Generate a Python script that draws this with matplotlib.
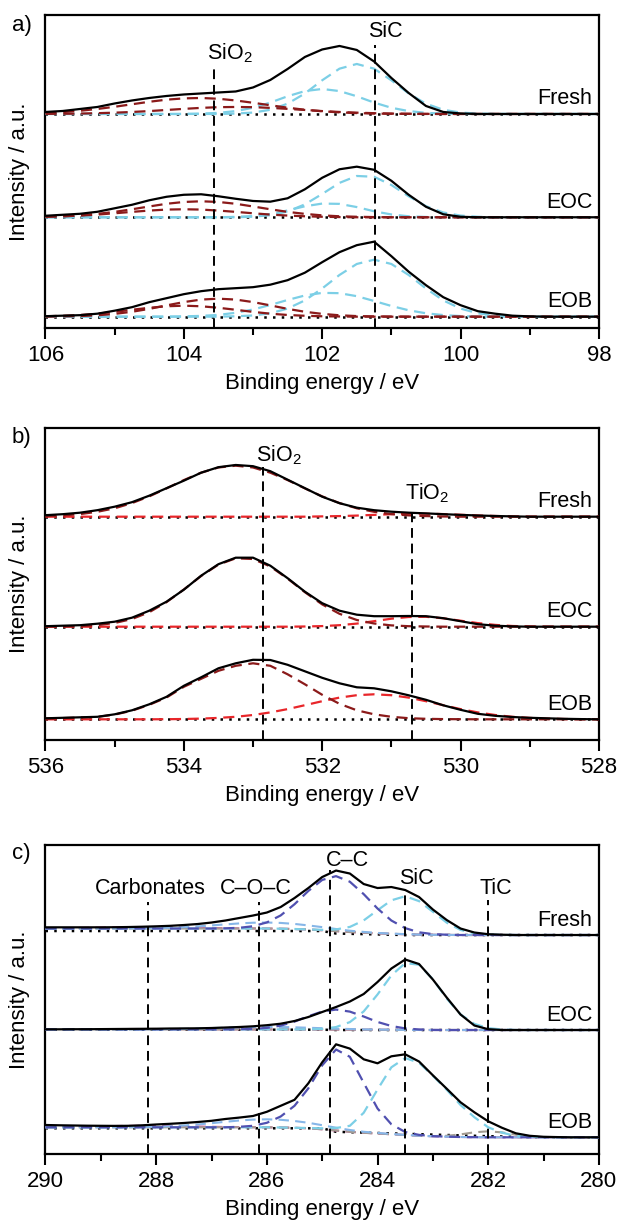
import numpy as np
import matplotlib.pyplot as plt
from matplotlib.ticker import MultipleLocator
from matplotlib.transforms import blended_transform_factory

plt.rcParams['font.family'] = ['Liberation Sans', 'DejaVu Sans']
plt.rcParams['mathtext.fontset'] = 'custom'
plt.rcParams['mathtext.rm'] = 'Liberation Sans'
plt.rcParams['mathtext.it'] = 'Liberation Sans:italic'
plt.rcParams['axes.formatter.useoffset'] = False

samples = ['Fresh', 'EOC', 'EOB']

# ---------------- a) Si 2p ----------------
si_be = np.arange(106.0, 97.9, -0.25)
si_fresh_env = [2, 3, 5, 7, 10.5, 13.5, 16, 18, 19.5, 20.5, 21.5, 22.5, 26.5, 34, 45,
                57, 64.5, 68, 64, 52.5, 36, 21, 8, 2, 0.5] + [0] * 8
si_fresh_sio2_a = [1.1, 1.9, 3.2, 5.0, 7.2, 9.7, 12.2, 14.3, 15.6, 16, 15.2, 13.5, 11.2,
                   8.7, 6.3, 4.2, 2.7, 1.6, 0.9, 0.4, 0.2, 0.1] + [0] * 11
si_fresh_sio2_b = [0.1, 0.2, 0.4, 0.8, 1.3, 2.0, 2.9, 4.0, 5.1, 6.1, 6.8, 7, 6.8, 6.1,
                   5.1, 4.0, 2.9, 2.0, 1.3, 0.8, 0.4, 0.2, 0.1] + [0] * 10
si_fresh_sic_a = [0] * 11 + [0.4, 1.4, 4.2, 10.3, 20.5, 33.7, 45.3, 50, 45.3, 33.7, 20.5,
                             10.3, 4.2, 1.4, 0.4] + [0] * 7
si_fresh_sic_b = [0] * 9 + [0.4, 1.1, 2.9, 6.2, 11.4, 17.7, 22.9, 25, 22.9, 17.7, 11.4,
                            6.2, 2.9, 1.1, 0.4] + [0] * 9

si_eoc_env = [1.5, 2.5, 3.5, 5.5, 9, 12.5, 17, 20.5, 22.5, 23, 21, 18.5, 16.3, 15.6, 19,
              28, 39.5, 48, 50.6, 47.5, 36.5, 22.5, 10.5, 3, 0.5] + [0] * 8
si_eoc_sio2_a = [0.5, 1.0, 1.9, 3.4, 5.4, 8.0, 10.8, 13.5, 15.3, 16, 15.3, 13.5, 10.8,
                 8.0, 5.4, 3.4, 1.9, 1.0, 0.5, 0.2] + [0] * 13
si_eoc_sio2_b = [0.5, 1.0, 1.7, 2.7, 4.0, 5.4, 6.7, 7.7, 8, 7.7, 6.7, 5.4, 4.0, 2.7,
                 1.7, 1.0, 0.5, 0.2] + [0] * 15
si_eoc_sic_a = [0] * 12 + [0.6, 2.1, 5.8, 12.9, 23.3, 34.4, 41.3, 40.5, 32.3, 21.0, 11.1,
                           4.8, 1.7, 0.5] + [0] * 7
si_eoc_sic_b = [0] * 11 + [0.4, 1.2, 3.3, 6.8, 11.0, 13.7, 13.4, 10.2, 6.0, 2.8, 1.0,
                           0.3] + [0] * 10

si_eob_env = [0.5, 1, 1.5, 3, 6, 9.5, 14.5, 18.5, 22.5, 25.5, 27.5, 28.5, 29.5, 32, 36.5,
              44, 54.5, 64.5, 71.5, 75, 60.5, 45, 31.5, 19.5, 11.5, 5.5, 3, 1, 0.3] + [0] * 4
si_eob_sio2_a = [0.1, 0.3, 0.6, 1.4, 2.8, 4.9, 7.8, 11.3, 14.6, 17.1, 18, 17.1, 14.6,
                 11.3, 7.8, 4.9, 2.8, 1.4, 0.6, 0.3, 0.1] + [0] * 12
si_eob_sio2_b = [0.4, 0.9, 1.7, 3.0, 4.8, 6.9, 8.9, 10.4, 11, 10.4, 8.9, 6.9, 4.8, 3.0,
                 1.7, 0.9, 0.4, 0.2] + [0] * 15
si_eob_sic_a = [0] * 11 + [0.4, 1.2, 3.4, 8.1, 16.3, 28.2, 41.7, 52.7, 57, 52.7, 41.7,
                           28.2, 16.3, 8.1, 3.4, 1.2, 0.4] + [0] * 5
si_eob_sic_b = [0] * 8 + [0.3, 0.8, 1.8, 3.9, 7.2, 11.7, 16.7, 21.2, 23.8, 23.5, 20.5,
                          15.7, 10.7, 6.4, 3.4, 1.6, 0.6] + [0] * 8

si_refs = [103.56, 101.24]
si_ref_labels = ['SiO$_2$', 'SiC']

# ---------------- b) O 1s ----------------
o_be = np.arange(536.0, 527.9, -0.25)
o_fresh_env = [1.5, 2.5, 4, 6.5, 10, 14.5, 21, 28.5, 36, 44, 49.5, 51.7, 50.5, 45.5, 37,
               28.5, 20, 13.5, 9, 6.5, 5, 4, 3.3, 2.5, 1.8, 1.2, 0.7, 0.3] + [0] * 5
o_fresh_sio2 = [0.6, 1.3, 2.6, 4.9, 8.4, 13.6, 20.3, 28.3, 36.6, 44.0, 49.2, 51, 49.2,
                44.0, 36.6, 28.3, 20.3, 13.6, 8.4, 4.9, 2.6, 1.3, 0.6, 0.2] + [0] * 9
o_fresh_tio2 = [0] * 16 + [0.3, 0.6, 1.1, 1.8, 2.5, 2.9, 3.0, 2.6, 1.9, 1.2, 0.7, 0.3] + [0] * 5

o_eoc_env = [0.5, 1, 1.5, 3, 5, 9, 16, 25, 37, 51, 62.5, 69, 69, 61, 48.5, 35, 23.5, 16,
             12, 10.5, 10.5, 10.7, 10.5, 8.5, 5.5, 2.5, 1, 0.3] + [0] * 5
o_eoc_sio2 = [0.1, 0.2, 0.6, 1.6, 3.7, 7.7, 14.5, 24.6, 37.2, 50.7, 62.1, 68.4, 67.7,
              60.2, 48.1, 34.5, 22.3, 12.9, 6.7, 3.2, 1.3, 0.5, 0.2] + [0] * 10
o_eoc_tio2 = [0] * 15 + [0.2, 0.6, 1.5, 3.1, 5.5, 8.0, 9.7, 9.9, 8.4, 6.0, 3.6, 1.8, 0.7,
                         0.3] + [0] * 4

o_eob_env = [1, 1.5, 2, 2.5, 5, 9, 15, 22.5, 33.5, 42, 51, 56, 59.5, 59.3, 54.5, 48, 41.5,
             36, 32, 31, 28, 24, 19.5, 14, 9.5, 5.5, 3.5, 2.3, 1.5, 1, 0.5, 0.2, 0]
o_eob_sio2 = [0.8, 1.2, 1.8, 2.4, 4.7, 8.6, 14.5, 21.8, 32.5, 40.5, 48.5, 53.5, 56, 53.5,
              45, 35, 24.5, 15.5, 9, 5, 2.5, 1.1, 0.5, 0.2, 0.1] + [0] * 8
o_eob_tio2 = [0] * 7 + [0.1, 0.3, 0.7, 1.4, 2.5, 4.3, 6.9, 10.2, 14.1, 18.1, 21.7, 24.1, 25,
                        24.1, 21.7, 18.1, 14.1, 10.2, 6.9, 4.3, 2.5, 1.4, 0.7, 0.3, 0.1, 0]

o_refs = [532.85, 530.70]
o_ref_labels = ['SiO$_2$', 'TiO$_2$']

# ---------------- c) C 1s ----------------
c_be = np.arange(290.0, 279.9, -0.25)
c_fresh_env = [7.7, 7.7, 7.7, 7.7, 7.7, 7.8, 8, 8.3, 8.7, 9.2, 10, 11, 12.5, 14.5, 17,
               19.5, 22.5, 28, 37, 47, 58, 64.5, 61.5, 51, 47, 48, 45, 38, 25.5, 15, 6.5,
               2.5, 0.8, 0.3] + [0] * 7
c_fresh_bg = [6.5] * 17 + [6.3, 6.0, 5.5, 4.8, 3.9, 3.0, 2.3, 1.7, 1.2, 0.8, 0.4, 0.2,
                           0.1] + [0] * 11
c_fresh_dot = [4] * 21 + [1.5, 1.2, 0.9, 0.6, 0.3] + [0] * 15
c_fresh_cc = [0] * 13 + [0.2, 0.7, 2.3, 6.1, 13.3, 24.8, 38.6, 50.3, 55, 50.3, 38.6, 24.8,
                         13.3, 6.1, 2.3, 0.7, 0.2] + [0] * 11
c_fresh_sic = [0] * 19 + [0.1, 0.4, 1.7, 5.1, 12.3, 23.1, 33.5, 38, 33.5, 23.1, 12.3, 5.1,
                          1.7, 0.4, 0.1] + [0] * 7
c_fresh_coc = [0] * 6 + [0.1, 0.2, 0.4, 0.8, 1.3, 2.1, 3.1, 4.1, 5.1, 5.8, 6, 5.8, 5.1,
                         4.1, 3.1, 2.1, 1.3, 0.8, 0.4, 0.2, 0.1] + [0] * 14
c_fresh_carb = [0.2, 0.3, 0.5, 0.8, 1.0, 1.3, 1.4, 1.5, 1.4, 1.3, 1.0, 0.8, 0.5, 0.3,
                0.2, 0.1] + [0] * 25
c_fresh_tic = [0] * 41

c_eoc_env = [0.7, 0.7, 0.8, 0.8, 0.9, 1, 1.1, 1.2, 1.3, 1.5, 1.6, 1.7, 2, 2.5, 3, 3.7,
             4.8, 6.3, 9, 13, 18, 23, 28.5, 36, 48, 61.5, 70.5, 66, 50.5, 32.5, 15.5, 4.5,
             0.8] + [0] * 8
c_eoc_bg = [0.6] * 19 + [0.55, 0.5, 0.45, 0.4, 0.3, 0.25, 0.2, 0.1, 0.05] + [0] * 13
c_eoc_dot = [0.3] * 21 + [0] * 20
c_eoc_cc = [0] * 14 + [0.1, 0.5, 1.5, 3.8, 7.8, 13.2, 18, 20, 18, 13.2, 7.8, 3.8, 1.5,
                       0.5, 0.1] + [0] * 12
c_eoc_sic = [0] * 19 + [0.1, 0.6, 2.5, 7.5, 18.3, 35.3, 54.4, 66.8, 65.3, 50.8, 31.5,
                        15.6, 6.1, 1.9, 0.5] + [0] * 7
c_eoc_coc = [0] * 7 + [0.1, 0.2, 0.3, 0.6, 0.9, 1.3, 1.7, 2.1, 2.4, 2.5, 2.4, 2.1, 1.7,
                       1.3, 0.9, 0.6, 0.3, 0.2, 0.1] + [0] * 15
c_eoc_carb = [0.1, 0.1, 0.2, 0.2, 0.3, 0.3, 0.4, 0.4, 0.4, 0.3, 0.3, 0.2, 0.2, 0.1,
              0.1] + [0] * 26
c_eoc_tic = [0] * 41

c_eob_env = [12.3, 12, 11.8, 11.6, 11.5, 11.4, 11.5, 12, 12.8, 13.5, 14.3, 15.3, 16.5,
             18.3, 19.7, 21.3, 25.5, 31.5, 37.5, 54, 75, 93, 88.7, 78, 74, 81, 83, 75.8,
             62, 48.6, 35, 25, 16, 9.5, 4, 1.5, 0.5, 0.2, 0, 0, 0]
c_eob_bg = [10] * 17 + [9.8, 9.5, 9, 8, 6.8, 5.5, 4.5, 3.8, 3, 2.3, 1.6, 1, 0.6, 0.3,
                        0.1] + [0] * 9
c_eob_dot = [9] * 21 + [5.5, 5.1, 4.7, 4.3, 3.9, 3.5, 3.1, 2.7, 2.3, 1.9, 1.5, 1.1, 0.8,
                        0.5, 0.2] + [0] * 5
c_eob_cc = [0] * 14 + [0.5, 1.5, 4.5, 11, 22, 40, 64, 81, 75, 50, 25, 10, 3, 0.8,
                       0.2] + [0] * 12
c_eob_sic = [0] * 19 + [0.3, 1, 2.5, 6, 20, 44, 67, 77, 73, 60.5, 47, 32, 20, 10, 4.6,
                        1.4, 0.5, 0.1] + [0] * 4
c_eob_coc = [0] * 6 + [0.1, 0.3, 0.6, 1.0, 1.8, 2.8, 4.1, 5.5, 6.8, 7.7, 8, 7.7, 6.8,
                       5.5, 4.1, 2.8, 1.8, 1.0, 0.6, 0.3, 0.1] + [0] * 14
c_eob_carb = [0.2, 0.3, 0.5, 0.8, 1.0, 1.3, 1.4, 1.5, 1.4, 1.3, 1.0, 0.8, 0.5, 0.3,
              0.2, 0.1] + [0] * 25
c_eob_tic = [0] * 28 + [0.2, 0.9, 2.6, 4.9, 6, 4.9, 2.6, 0.9, 0.2] + [0] * 4

c_refs = [288.15, 286.15, 284.85, 283.5, 282.0]
c_ref_labels = ['Carbonates', 'C–O–C', 'C–C', 'SiC', 'TiC']

# colours
darkred = '#8b1a1a'
cyan = '#7ccfe6'
red = '#e8262a'
blue = '#5050b0'
lightblue = '#86b6e8'
pink = '#d4509e'
grey = '#a39c92'

dash = (0, (5, 3))
dot = (0, (1, 2.5))


def setup_axes(ax, xlim, ylim, major, minor):
    ax.set_xlim(*xlim)
    ax.set_ylim(*ylim)
    ax.xaxis.set_major_locator(MultipleLocator(major))
    ax.xaxis.set_minor_locator(MultipleLocator(minor))
    ax.set_yticks([])
    ax.tick_params(which='major', direction='out', length=8, width=1.5, labelsize=16, pad=4)
    ax.tick_params(which='minor', direction='out', length=5, width=1.5)
    for s in ax.spines.values():
        s.set_linewidth(1.6)
    ax.set_xlabel('Binding energy / eV', fontsize=16, labelpad=5)
    ax.set_ylabel('Intensity / a.u.', fontsize=16)
    ax.yaxis.set_label_coords(-0.028, 0.5)


def sample_labels(ax, offsets):
    tr = blended_transform_factory(ax.transAxes, ax.transData)
    for name, off in zip(samples, offsets):
        ax.text(0.988, off + 15, name, transform=tr, ha='right', va='center', fontsize=15.5)


fig = plt.figure(figsize=(6.19, 12.27), dpi=100)

# ---- panel a
ax = fig.add_axes([0.0735, 0.7327, 0.894, 0.2551])
offs_a = [214, 110.7, 11.3]
spec_a = [
    (si_fresh_env, [si_fresh_sio2_a, si_fresh_sio2_b], [si_fresh_sic_a, si_fresh_sic_b]),
    (si_eoc_env, [si_eoc_sio2_a, si_eoc_sio2_b], [si_eoc_sic_a, si_eoc_sic_b]),
    (si_eob_env, [si_eob_sio2_a, si_eob_sio2_b], [si_eob_sic_a, si_eob_sic_b]),
]
for off, (env, ox, sic) in zip(offs_a, spec_a):
    ax.plot(si_be, off + np.zeros(len(si_be)), color='k', ls=dot, lw=1.8, zorder=2)
    for comp in sic:
        ax.plot(si_be, off + np.array(comp), color=cyan, ls=dash, lw=1.6, zorder=3)
    for comp in ox:
        ax.plot(si_be, off + np.array(comp), color=darkred, ls=dash, lw=1.6, zorder=3)
    ax.plot(si_be, off + np.array(env), color='k', lw=1.6, zorder=5)
for e, top, lab, ly in zip(si_refs, [263, 283], si_ref_labels, [275, 296]):
    ax.plot([e, e], [0, top], color='k', ls=dash, lw=1.4, zorder=4)
    ax.text(e + 0.1, ly, lab, ha='left', va='center', fontsize=15.5)
setup_axes(ax, (106, 98), (0, 313), 2, 1)
sample_labels(ax, offs_a)
fig.text(12 / 619, 1 - 25 / 1227, 'a)', ha='left', va='center', fontsize=16)

# ---- panel b
ax = fig.add_axes([0.0735, 0.3969, 0.894, 0.2543])
offs_b = [223.3, 113.3, 20.7]
spec_b = [
    (o_fresh_env, o_fresh_sio2, o_fresh_tio2),
    (o_eoc_env, o_eoc_sio2, o_eoc_tio2),
    (o_eob_env, o_eob_sio2, o_eob_tio2),
]
for off, (env, sio2, tio2) in zip(offs_b, spec_b):
    ax.plot(o_be, off + np.zeros(len(o_be)), color='k', ls=dot, lw=1.8, zorder=2)
    ax.plot(o_be, off + np.array(tio2), color=red, ls=dash, lw=1.6, zorder=3)
    ax.plot(o_be, off + np.array(sio2), color=darkred, ls=dash, lw=1.6, zorder=3)
    ax.plot(o_be, off + np.array(env), color='k', lw=1.6, zorder=5)
for e, top, lab, ly in zip(o_refs, [273, 233], o_ref_labels, [285, 247]):
    ax.plot([e, e], [0, top], color='k', ls=dash, lw=1.4, zorder=4)
    ax.text(e + 0.1, ly, lab, ha='left', va='center', fontsize=15.5)
setup_axes(ax, (536, 528), (0, 312), 2, 1)
sample_labels(ax, offs_b)
fig.text(12 / 619, 1 - 437 / 1227, 'b)', ha='left', va='center', fontsize=16)

# ---- panel c
ax = fig.add_axes([0.0735, 0.0595, 0.894, 0.2518])
offs_c = [219, 124, 16.7]
spec_c = [
    (c_fresh_env, c_fresh_bg, c_fresh_dot, c_fresh_cc, c_fresh_sic, c_fresh_coc, c_fresh_carb, c_fresh_tic),
    (c_eoc_env, c_eoc_bg, c_eoc_dot, c_eoc_cc, c_eoc_sic, c_eoc_coc, c_eoc_carb, c_eoc_tic),
    (c_eob_env, c_eob_bg, c_eob_dot, c_eob_cc, c_eob_sic, c_eob_coc, c_eob_carb, c_eob_tic),
]
for off, (env, bg, dots, cc, sic, coc, carb, tic) in zip(offs_c, spec_c):
    bg = np.array(bg)
    ax.plot(c_be, off + np.array(dots), color='k', ls=dot, lw=1.8, zorder=2)
    ax.plot(c_be, off + bg + np.array(carb), color=pink, ls=dash, lw=1.5, zorder=3)
    ax.plot(c_be, off + bg + np.array(tic), color=grey, ls=dash, lw=1.5, zorder=3)
    ax.plot(c_be, off + bg + np.array(coc), color=lightblue, ls=dash, lw=1.5, zorder=3)
    ax.plot(c_be, off + bg + np.array(sic), color=cyan, ls=dash, lw=1.6, zorder=3)
    ax.plot(c_be, off + bg + np.array(cc), color=blue, ls=dash, lw=1.6, zorder=3)
    ax.plot(c_be, off + np.array(env), color='k', lw=1.6, zorder=5)
c_tops = [252, 252, 284, 264, 254]
c_lab_x = [288.1, 286.2, 284.54, 283.29, 281.86]
c_lab_y = [266, 266, 294, 276, 266]
for e, top, lab, lx, ly in zip(c_refs, c_tops, c_ref_labels, c_lab_x, c_lab_y):
    ax.plot([e, e], [0, top], color='k', ls=dash, lw=1.4, zorder=4)
    ax.text(lx, ly, lab, ha='center', va='center', fontsize=15.5)
setup_axes(ax, (290, 280), (0, 309), 2, 1)
sample_labels(ax, offs_c)
fig.text(12 / 619, 1 - 854 / 1227, 'c)', ha='left', va='center', fontsize=16)

fig.savefig('out.png', dpi=100)
